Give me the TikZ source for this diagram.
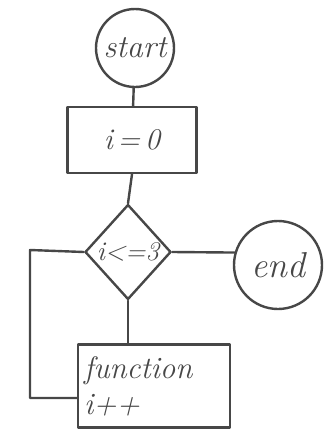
\documentclass[tikz,border=0pt]{standalone}
\usetikzlibrary{shapes.geometric}
\definecolor{pencil}{HTML}{474747}
\tikzset{
  pen/.style={draw=pencil, line width=2.4pt, line cap=round, line join=round},
  term/.style={circle, pen, inner sep=0pt, text=pencil, font=\fontsize{32}{34}\selectfont\itshape},
  proc/.style={rectangle, pen, inner sep=0pt, text=pencil, font=\fontsize{30}{34}\selectfont\itshape},
  decision/.style={diamond, pen, inner sep=0pt, minimum width=86pt, minimum height=95pt}
}
\begin{document}
\begin{tikzpicture}[x=1pt,y=-1pt]
        \useasboundingbox (0,0) rectangle (325,429);
        %Khối
        \node[term, minimum size=78pt] (start) at (135,48) {start};
        \node[proc, minimum width=129pt, minimum height=66pt] (init) at (132,140) {i\,=\,0};
        \node[decision, label={[text=pencil, font=\fontsize{27}{30}\selectfont\itshape]center:i<=3}] (cond) at (128,252) {};
        \node[term, minimum size=88pt, font=\fontsize{36}{38}\selectfont\itshape] (stop) at (278,265) {end};
        \node[proc, minimum width=152pt, minimum height=83pt, align=left, text width=140pt, font=\fontsize{31}{36}\selectfont\itshape] (body) at (154,386) {function\\i++};
        %Đường nối
        \coordinate (loop) at (30,250);
        \draw[pen] (start) -- (init);
        \draw[pen] (init.south) -- (cond.north);
        \draw[pen] (cond.east) -- (stop.164);
        \draw[pen] (cond.south) -- (cond.south |- body.north);
        \draw[pen] (cond.west) -- (loop) |- ([yshift=-12pt]body.west);
\end{tikzpicture}
\end{document}
